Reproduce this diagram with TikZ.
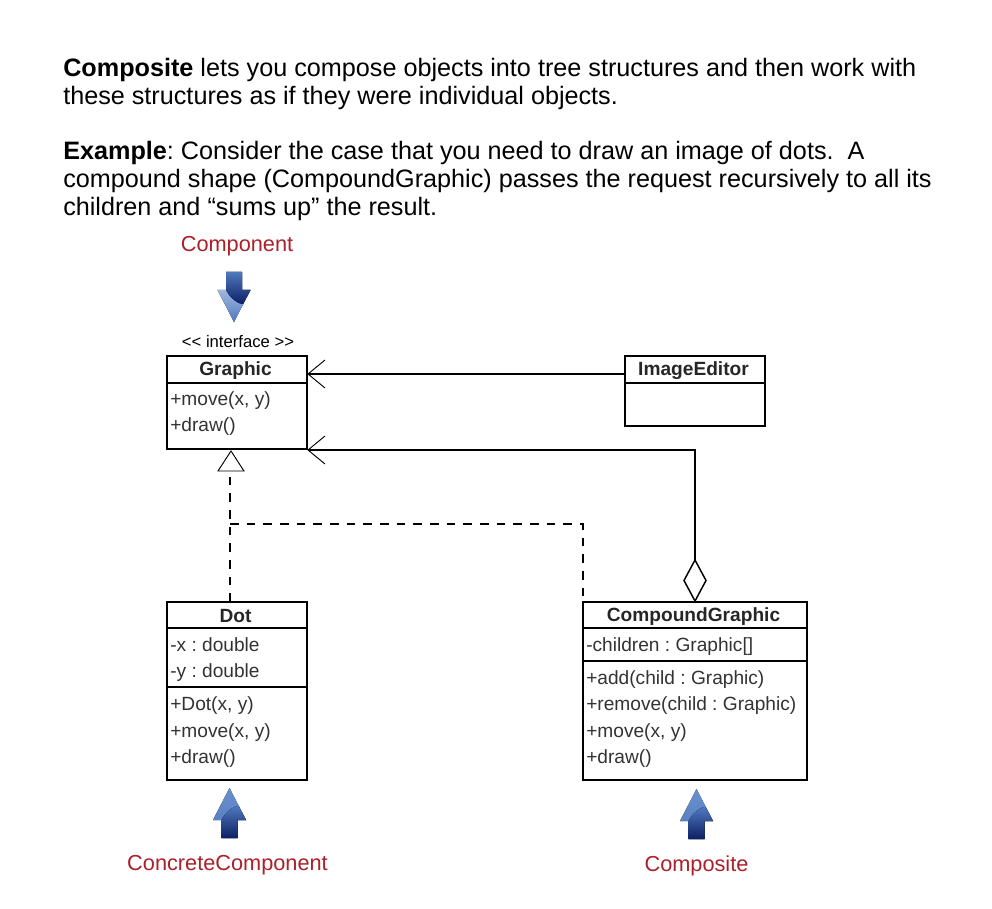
\documentclass[tikz,border=0pt]{standalone}
\usepackage{fontspec}
\setmainfont{Liberation Sans}
\usetikzlibrary{calc}
\definecolor{lblred}{RGB}{172,32,42}
\definecolor{navy}{RGB}{12,32,100}
\definecolor{lightb}{RGB}{205,220,242}
\definecolor{tipup}{RGB}{105,145,205}
\definecolor{midb}{RGB}{80,120,190}
\newcommand{\headfont}{\fontsize{18.9pt}{20pt}\selectfont}
\newcommand{\memfont}{\fontsize{14.35pt}{15pt}\selectfont}
\frenchspacing
\tikzset{
  x=0.75pt,y=-0.75pt,
  umlbox/.style={draw,line width=1.5pt,minimum width=#1,inner sep=0pt,outer sep=0pt},
  sep/.style={line width=0.8pt},
  headline/.style={anchor=base west,inner sep=0pt,font=\headfont},
  title/.style={anchor=center,inner sep=0pt,font=\memfont\bfseries,text=black!85},
  member/.style={anchor=base west,inner sep=0pt,font=\memfont,text=black!80},
  rolelabel/.style={anchor=center,inner sep=0pt,text=lblred,font=\fontsize{16.3pt}{18pt}\selectfont},
  link/.style={line width=1.4pt},
  dashlink/.style={line width=1.4pt,dash pattern=on 6.5pt off 6pt},
  opentip/.style={line width=0.7pt},
  pics/rolearrow/.style={code={
    \fill[top color=#1,bottom color=midb] (0,0) -- (16.5,32) -- (8,32) -- (8,50) -- (-8,50) -- (-8,32) -- (-16.5,32) -- cycle;
    \fill[top color=midb,middle color=navy,bottom color=navy] (16.5,32) -- (8,32) -- (8,50) -- (-8,50) -- (-8,32) .. controls (-4,24) and (4,18) .. (9,18) -- cycle;
  }}
}
\begin{document}
\begin{tikzpicture}
\useasboundingbox (0,0) rectangle (992,909);
\fill[white] (0,0) rectangle (992,909);

\node[headline] (h1) at (63,76.5) {\textbf{Composite} lets you compose objects into tree structures and then work with};
\node[headline] (h2) at (63,104.5) {these structures as if they were individual objects.};
\node[headline] (h3) at (63,159.5) {\textbf{Example}: Consider the case that you need to draw an image of dots.\ \ A};
\node[headline] (h4) at (63,187.5) {compound shape (CompoundGraphic) passes the request recursively to all its};
\node[headline] (h5) at (63,215.5) {children and “sums up” the result.};

\node[rolelabel] (lcomp) at (237,246) {Component};
\node[rolelabel] (lconc) at (227.5,865) {ConcreteComponent};
\node[rolelabel] (lcomposite) at (696.5,866) {Composite};
\pic[yscale=-1] at (234,322) {rolearrow=lightb};
\pic at (229.5,788) {rolearrow=tipup};
\pic at (696.5,789) {rolearrow=tipup};

\node[anchor=center,inner sep=0pt,font=\fontsize{12.5pt}{13pt}\selectfont] (stereo) at (238,341.5) {<{}< interface >{}>};

% Graphic
\node[umlbox=105pt,minimum height=69.75pt,anchor=north west] (graphic) at (167,356) {};
\draw[sep] (graphic.west |- 0,383) -- (graphic.east |- 0,383);
\node[title] (tg) at (235.5,371) {Graphic};
\node[member] (g1) at (170,405) {+move(x, y)};
\node[member] (g2) at (170,431) {+draw()};

% ImageEditor
\node[umlbox=105pt,minimum height=52.5pt,anchor=north west] (editor) at (625,356) {};
\draw[sep] (editor.west |- 0,383) -- (editor.east |- 0,383);
\node[title] (te) at (693.5,371) {ImageEditor};

% Dot
\node[umlbox=105pt,minimum height=133.5pt,anchor=north west] (dot) at (167,602) {};
\draw[sep] (dot.west |- 0,628) -- (dot.east |- 0,628);
\draw[sep] (dot.west |- 0,687) -- (dot.east |- 0,687);
\node[title] (td) at (235.5,616) {Dot};
\node[member] (d1) at (170,651) {-x : double};
\node[member] (d2) at (170,677) {-y : double};
\node[member] (d3) at (170,710) {+Dot(x, y)};
\node[member] (d4) at (170,737) {+move(x, y)};
\node[member] (d5) at (170,763) {+draw()};

% CompoundGraphic
\node[umlbox=168pt,minimum height=133.5pt,anchor=north west] (compound) at (583,602) {};
\draw[sep] (compound.west |- 0,628) -- (compound.east |- 0,628);
\draw[sep] (compound.west |- 0,661) -- (compound.east |- 0,661);
\node[title] (tc) at (693.5,617) {CompoundGraphic};
\node[member] (c1) at (586,651) {-children : Graphic[]};
\node[member] (c2) at (586,684) {+add(child : Graphic)};
\node[member] (c3) at (586,710) {+remove(child : Graphic)};
\node[member] (c4) at (586,737) {+move(x, y)};
\node[member] (c5) at (586,763) {+draw()};

% association ImageEditor -> Graphic
\coordinate (gtopin) at ($(graphic.north east)+(1,18)$);
\coordinate (gbotin) at ($(graphic.south east)+(1,1)$);
\draw[link] (editor.west |- gtopin) -- (gtopin);
\draw[opentip] (gtopin) -- ++(17,-14) (gtopin) -- ++(17,14);

% aggregation CompoundGraphic -> Graphic
\coordinate (dtop) at (695,560);
\coordinate (dbot) at (695,601);
\draw[line width=1.1pt,fill=white] (dtop) -- (706,580.5) -- (dbot) -- (684,580.5) -- cycle;
\draw[link] (dtop) -- (gbotin -| dtop) -- (gbotin);
\draw[opentip] (gbotin) -- ++(17,-14) (gbotin) -- ++(17,14);

% realisation
\coordinate (tapex) at (231,451);
\coordinate (tbl) at (218,471);
\coordinate (tbr) at (244,471);
\draw[line width=0.7pt] (tapex) -- (tbr) -- (tbl) -- cycle;
\coordinate (branch) at (230,524);
\draw[dashlink] (dot.north -| branch) -- (230,471);
\draw[dashlink] (branch) -- (compound.north west |- branch) -- (compound.north west);
\end{tikzpicture}
\end{document}
